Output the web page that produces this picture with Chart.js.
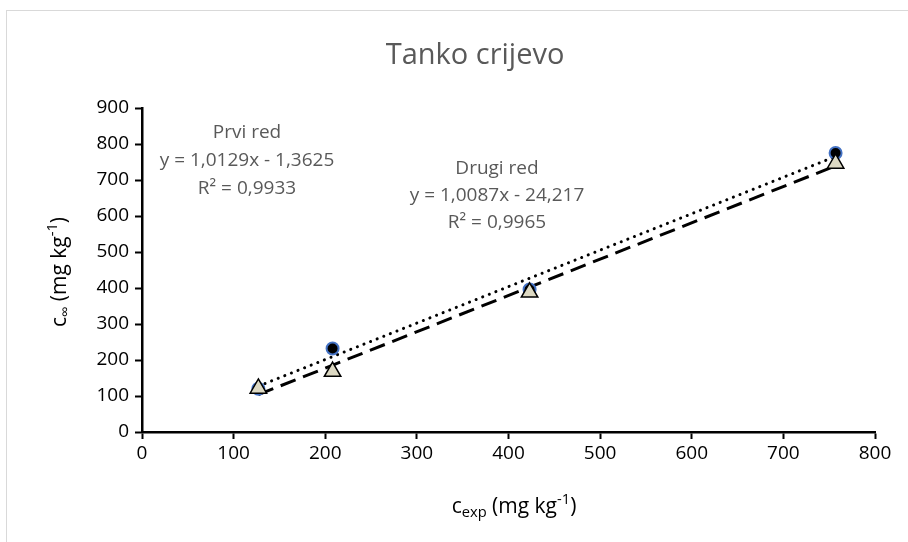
<!DOCTYPE html>
<html>
<head>
<meta charset="utf-8">
<script src="https://cdn.jsdelivr.net/npm/chart.js@4.4.0/dist/chart.umd.min.js"></script>
<style>
  html, body { margin: 0; padding: 0; background: #fff; overflow: hidden; }
  #frame { position: absolute; left: 6px; top: 10px; width: 1000px; height: 600px;
           border-left: 1px solid #d9d9d9; border-top: 1px solid #d9d9d9; }
  #wrap { position: absolute; left: 0; top: 0; width: 908px; height: 542px; }
</style>
</head>
<body>
<div id="frame"></div>
<div id="wrap"><canvas id="chart"></canvas></div>
<script>
// measured values
const xExp = [127, 208, 423, 757];
const prviRed = [120, 232, 396, 775];
const drugiRed = [121, 168, 388, 746];

// trendline equations shown on the chart
const prviSlope = 1.0129, prviIcept = -1.3625;
const drugiSlope = 1.0087, drugiIcept = -24.217;

const xTicks = [0, 100, 200, 300, 400, 500, 600, 700, 800];
const yTicks = [0, 100, 200, 300, 400, 500, 600, 700, 800, 900];

const FONT = "'Open Sans', sans-serif";

let xMin = Math.min(...xExp), xMax = Math.max(...xExp);
const trend = (m, b) => [xMin, xMax].map(x => ({ x: x, y: m * x + b }));

// draw text with sub/superscript parts, centered at x,y
function richText(ctx, parts, x, y, size) {
    let total = 0;
    parts.forEach(p => {
        ctx.font = (p[1] ? size * 0.7 : size) + 'px ' + FONT;
        total += ctx.measureText(p[0]).width;
    });
    let cx = x - total / 2;
    parts.forEach(p => {
        let s = p[1] ? size * 0.7 : size;
        ctx.font = s + 'px ' + FONT;
        let dy = p[1] === 'sub' ? size * 0.3 : p[1] === 'sup' ? -size * 0.35 : 0;
        ctx.fillText(p[0], cx, y + dy);
        cx += ctx.measureText(p[0]).width;
    });
}

const labelsPlugin = {
    id: 'labelsPlugin',
    afterDraw(chart) {
        const ctx = chart.ctx;
        ctx.save();
        ctx.textBaseline = 'middle';
        ctx.textAlign = 'center';
        ctx.fillStyle = '#595959';
        ctx.font = '29px ' + FONT;
        ctx.fillText('Tanko crijevo', 475, 56);

        ctx.font = '19px ' + FONT;
        ctx.fillText('Prvi red', 247, 133);
        ctx.fillText('y = 1,0129x - 1,3625', 247, 161);
        ctx.fillText('R² = 0,9933', 247, 189);
        ctx.fillText('Drugi red', 497, 169);
        ctx.fillText('y = 1,0087x - 24,217', 497, 196);
        ctx.fillText('R² = 0,9965', 497, 223);

        ctx.textAlign = 'left';
        ctx.fillStyle = '#000';
        richText(ctx, [['c', null], ['exp', 'sub'], [' (mg kg', null], ['-1', 'sup'], [')', null]], 514, 507, 21);

        ctx.translate(60, 272);
        ctx.rotate(-Math.PI / 2);
        richText(ctx, [['c', null], ['∞', 'sub'], [' (mg kg', null], ['-1', 'sup'], [')', null]], 0, 0, 21);
        ctx.restore();
    }
};

new Chart(document.getElementById('chart'), {
    type: 'scatter',
    data: {
        datasets: [
            {
                label: 'Prvi red',
                data: xExp.map((x, i) => ({ x: x, y: prviRed[i] })),
                pointStyle: 'circle',
                pointRadius: 6,
                pointBackgroundColor: '#000',
                pointBorderColor: '#4472C4',
                pointBorderWidth: 2,
                showLine: false,
                order: 1
            },
            {
                label: 'Drugi red',
                data: xExp.map((x, i) => ({ x: x, y: drugiRed[i] })),
                pointStyle: 'triangle',
                pointRadius: 9.5,
                pointBackgroundColor: '#DDD9C3',
                pointBorderColor: '#000',
                pointBorderWidth: 1.5,
                showLine: false,
                order: 0
            },
            {
                label: 'trend prvi',
                data: trend(prviSlope, prviIcept),
                showLine: true,
                pointRadius: 0,
                borderColor: '#000',
                borderWidth: 3,
                borderDash: [0.1, 7],
                borderCapStyle: 'round',
                order: 2
            },
            {
                label: 'trend drugi',
                data: trend(drugiSlope, drugiIcept),
                showLine: true,
                pointRadius: 0,
                borderColor: '#000',
                borderWidth: 3,
                borderDash: [16, 8],
                order: 2
            }
        ]
    },
    options: {
        responsive: true,
        maintainAspectRatio: false,
        animation: false,
        layout: { padding: { top: 108, right: 33, left: 0, bottom: 0 } },
        plugins: {
            legend: { display: false },
            tooltip: { enabled: false },
            title: { display: false }
        },
        scales: {
            x: {
                type: 'linear',
                min: 0, max: 800,
                afterFit: s => { s.height = 110; },
                afterBuildTicks: s => { s.ticks = xTicks.map(v => ({ value: v })); },
                grid: { drawOnChartArea: false, tickLength: 7, tickWidth: 2, tickColor: '#000' },
                border: { color: '#000', width: 2.5 },
                ticks: { color: '#000', font: { size: 19, family: FONT }, padding: 3, maxRotation: 0 }
            },
            y: {
                type: 'linear',
                min: 0, max: 900,
                afterFit: s => { s.width = 142; },
                afterBuildTicks: s => { s.ticks = yTicks.map(v => ({ value: v })); },
                grid: { drawOnChartArea: false, tickLength: 7, tickWidth: 2, tickColor: '#000' },
                border: { color: '#000', width: 2.5 },
                ticks: { color: '#000', font: { size: 19, family: FONT }, padding: 6 }
            }
        }
    },
    plugins: [labelsPlugin]
});
</script>
</body>
</html>
